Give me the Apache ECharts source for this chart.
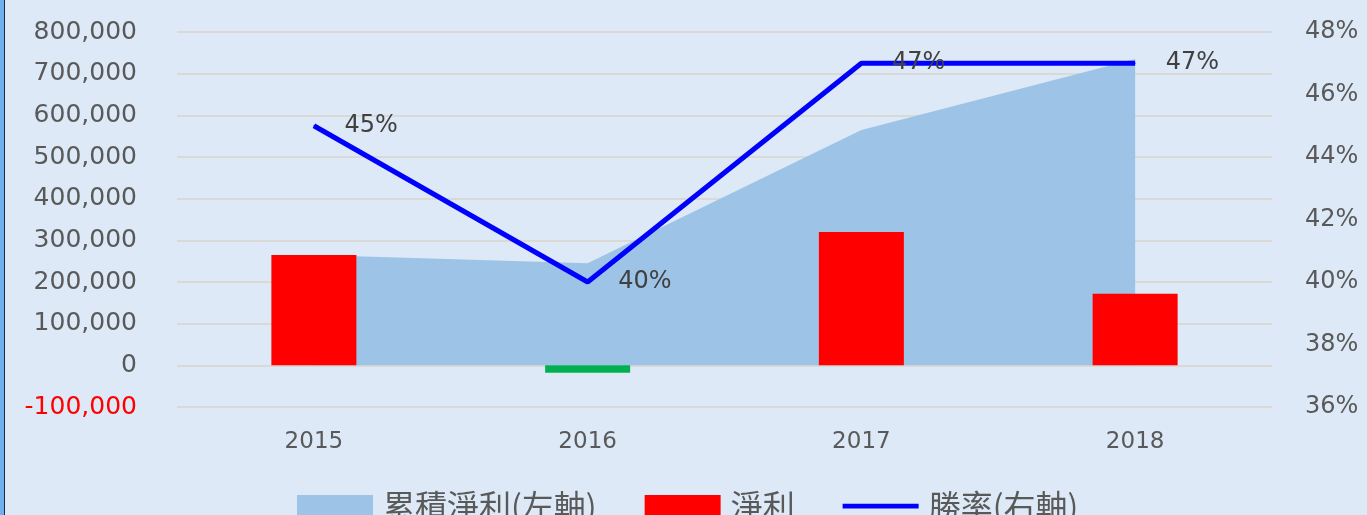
<!DOCTYPE html>
<html>
<head>
<meta charset="utf-8">
<script src="https://cdn.jsdelivr.net/npm/echarts@6/dist/echarts.min.js"></script>
<style>
  html, body { margin: 0; padding: 0; background: #dde9f6; }
  #chart { width: 1367px; height: 515px; }
  #edge { position: absolute; left: 0; top: 0; width: 4px; height: 515px; background: #6fb0ef; border-right: 1px solid #1f2a38; }
</style>
</head>
<body>
<div id="chart"></div>
<div id="edge"></div>
<script>
// 年度
const years = ['2015', '2016', '2017', '2018'];
// 累積淨利 (左軸)
const cumProfit = [265000, 245000, 565000, 735000];
// 淨利 (左軸)
const netProfit = [265000, -18000, 320000, 172000];
// 勝率 % (右軸)
const winRate = [45, 40, 47, 47];

const AREA = '#9dc3e6';
const RED = '#ff0000';
const GREEN = '#00b050';
const BLUE = '#0000ff';
const TEXT = '#595959';
const FONT = '"DejaVu Sans", sans-serif';

const chart = echarts.init(document.getElementById('chart'));

chart.setOption({
  backgroundColor: '#dde9f6',
  animation: false,
  grid: { top: 32, bottom: 108, left: 177, right: 95, outerBoundsMode: 'none' },
  legend: {
    left: 292,
    top: 485,
    itemWidth: 76,
    itemHeight: 22,
    itemGap: 48,
    textStyle: { color: TEXT, fontSize: 32, fontFamily: '"Noto Sans CJK TC", sans-serif', padding: [0, 0, 4, 5] },
    data: [
      { name: '累積淨利(左軸)', icon: 'rect', itemStyle: { color: AREA } },
      { name: '淨利', icon: 'rect' },
      { name: '勝率(右軸)', icon: 'path://M0 0H80V5H0Z', itemStyle: { color: BLUE } },
    ],
  },
  xAxis: {
    type: 'category',
    data: years,
    axisLine: { show: false },
    axisTick: { show: false },
    axisLabel: { color: TEXT, fontSize: 23, fontFamily: FONT, margin: 24 },
  },
  yAxis: [
    {
      type: 'value',
      min: -100000,
      max: 800000,
      interval: 100000,
      axisLine: { show: false },
      axisTick: { show: false },
      splitLine: { lineStyle: { color: '#d8d3cb', width: 1.5 } },
      axisLabel: {
        fontSize: 25,
        fontFamily: FONT,
        margin: 40,
        color: v => (v < 0 ? '#ff0000' : TEXT),
        formatter: v => v.toLocaleString('en-US'),
      },
    },
    {
      type: 'value',
      min: 36,
      max: 48,
      interval: 2,
      axisLine: { show: false },
      axisTick: { show: false },
      splitLine: { show: false },
      axisLabel: { color: TEXT, fontSize: 24, fontFamily: FONT, margin: 33, formatter: '{value}%' },
    },
  ],
  series: [
    {
      name: '累積淨利(左軸)',
      type: 'line',
      data: cumProfit,
      symbol: 'none',
      z: 1,
      itemStyle: { color: AREA },
      lineStyle: { width: 0, color: AREA },
      areaStyle: { color: AREA, opacity: 1 },
    },
    {
      name: '淨利',
      type: 'bar',
      barWidth: 85,
      z: 2,
      itemStyle: { color: RED },
      data: netProfit.map(v => ({ value: v, itemStyle: { color: v < 0 ? GREEN : RED } })),
    },
    {
      name: '勝率(右軸)',
      type: 'line',
      yAxisIndex: 1,
      data: winRate,
      symbol: 'circle',
      symbolSize: 1,
      z: 3,
      itemStyle: { color: BLUE },
      lineStyle: { width: 5, color: BLUE },
      label: {
        show: true,
        position: 'right',
        distance: 30,
        color: '#404040',
        fontSize: 24,
        fontFamily: FONT,
        formatter: '{c}%',
      },
    },
  ],
});
</script>
</body>
</html>
